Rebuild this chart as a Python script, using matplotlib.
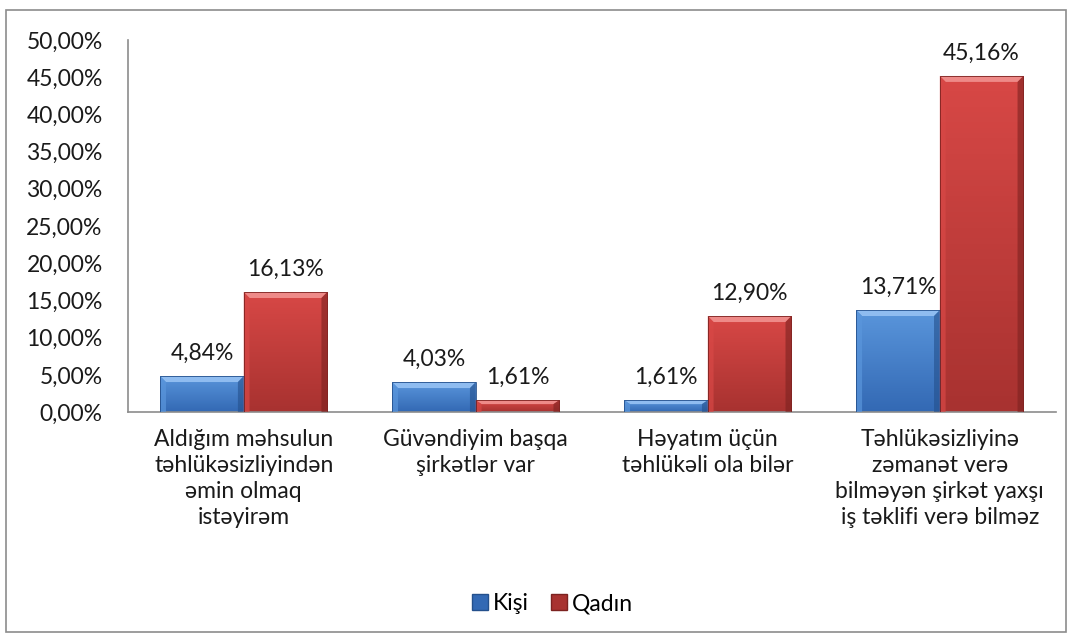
import numpy as np
import matplotlib.pyplot as plt
from matplotlib.patches import Rectangle, Polygon
from matplotlib.colors import LinearSegmentedColormap

categories = [
    "Aldığım məhsulun\ntəhlükəsizliyindən\nəmin olmaq\nistəyirəm",
    "Güvəndiyim başqa\nşirkətlər var",
    "Həyatım üçün\ntəhlükəli ola bilər",
    "Təhlükəsizliyinə\nzəmanət verə\nbilməyən şirkət yaxşı\niş təklifi verə bilməz",
]
kisi = [4.84, 4.03, 1.61, 13.71]
qadin = [16.13, 1.61, 12.90, 45.16]
series = ["Kişi", "Qadın"]
yticks = np.arange(0, 50.01, 5)

FS = 16.5
plt.rcParams["font.family"] = ["Lato", "DejaVu Sans"]
plt.rcParams["font.size"] = FS

fig = plt.figure(figsize=(10.73, 6.34), dpi=100)
fig.patches.append(Rectangle((6 / 1073, 2 / 634), 1060 / 1073, 622 / 634,
                             transform=fig.transFigure, fill=False,
                             edgecolor="#8c8c8c", linewidth=1.2))
ax = fig.add_axes([0.119, 0.350, 0.865, 0.587])

x = np.arange(len(categories))
w = 0.36
styles = {
    "Kişi": dict(top="#5a96dc", bot="#3369b4", light="#8fbcf0", dark="#24508c"),
    "Qadın": dict(top="#d84846", bot="#a83230", light="#ee8a88", dark="#7c2220"),
}


def bevel_bar(ax, x0, h, st):
    cmap = LinearSegmentedColormap.from_list("g", [st["bot"], st["top"]])
    grad = np.linspace(0, 1, 64).reshape(-1, 1)
    im = ax.imshow(grad, cmap=cmap, aspect="auto", origin="lower",
                   extent=[x0, x0 + w, 0, h], zorder=2)
    rect = Rectangle((x0, 0), w, h, transform=ax.transData, facecolor="none",
                     edgecolor="none")
    ax.add_patch(rect)
    im.set_clip_path(rect)
    bx = 0.025
    by = min(0.8, h / 3)
    ax.add_patch(Polygon([(x0, h), (x0 + w, h), (x0 + w - bx, h - by), (x0 + bx, h - by)],
                         facecolor=st["light"], edgecolor="none", zorder=3))
    ax.add_patch(Polygon([(x0, 0), (x0, h), (x0 + bx, h - by), (x0 + bx, 0)],
                         facecolor=st["top"], edgecolor="none", alpha=0.7, zorder=3))
    ax.add_patch(Polygon([(x0 + w, 0), (x0 + w, h), (x0 + w - bx, h - by), (x0 + w - bx, 0)],
                         facecolor=st["dark"], edgecolor="none", alpha=0.6, zorder=3))
    ax.add_patch(Rectangle((x0, 0), w, h, facecolor="none", edgecolor=st["dark"],
                           linewidth=0.6, zorder=4))


for name, vals, off in [("Kişi", kisi, -w), ("Qadın", qadin, 0.0)]:
    for xi, v in zip(x, vals):
        bevel_bar(ax, xi + off, v, styles[name])
        ax.text(xi + off + w / 2, v + 1.6, f"{v:.2f}%".replace(".", ","),
                ha="center", va="bottom", fontsize=FS, color="#1a1a1a")

ax.set_xlim(-0.5, len(categories) - 0.5)
ax.set_ylim(0, 50)
ax.set_yticks(yticks)
ax.set_yticklabels([f"{t:.2f}%".replace(".", ",") for t in yticks])
ax.set_xticks(x)
ax.set_xticklabels(categories, linespacing=1.3, va="top")
ax.tick_params(axis="both", length=0, colors="#1a1a1a", labelsize=FS)
ax.tick_params(axis="y", pad=18)
ax.tick_params(axis="x", pad=12)
for s in ["top", "right"]:
    ax.spines[s].set_visible(False)
for s in ["left", "bottom"]:
    ax.spines[s].set_color("#8c8c8c")
    ax.spines[s].set_linewidth(1.2)

handles = [Rectangle((0, 0), 1, 1, facecolor=styles[n]["bot"], edgecolor=styles[n]["dark"])
           for n in series]
fig.legend(handles, series, loc="center", bbox_to_anchor=(0.515, 0.048), ncol=2,
           frameon=False, handlelength=0.7, handleheight=0.7, handletextpad=0.2,
           columnspacing=1.0, fontsize=FS)

fig.savefig("out.png", dpi=100)
